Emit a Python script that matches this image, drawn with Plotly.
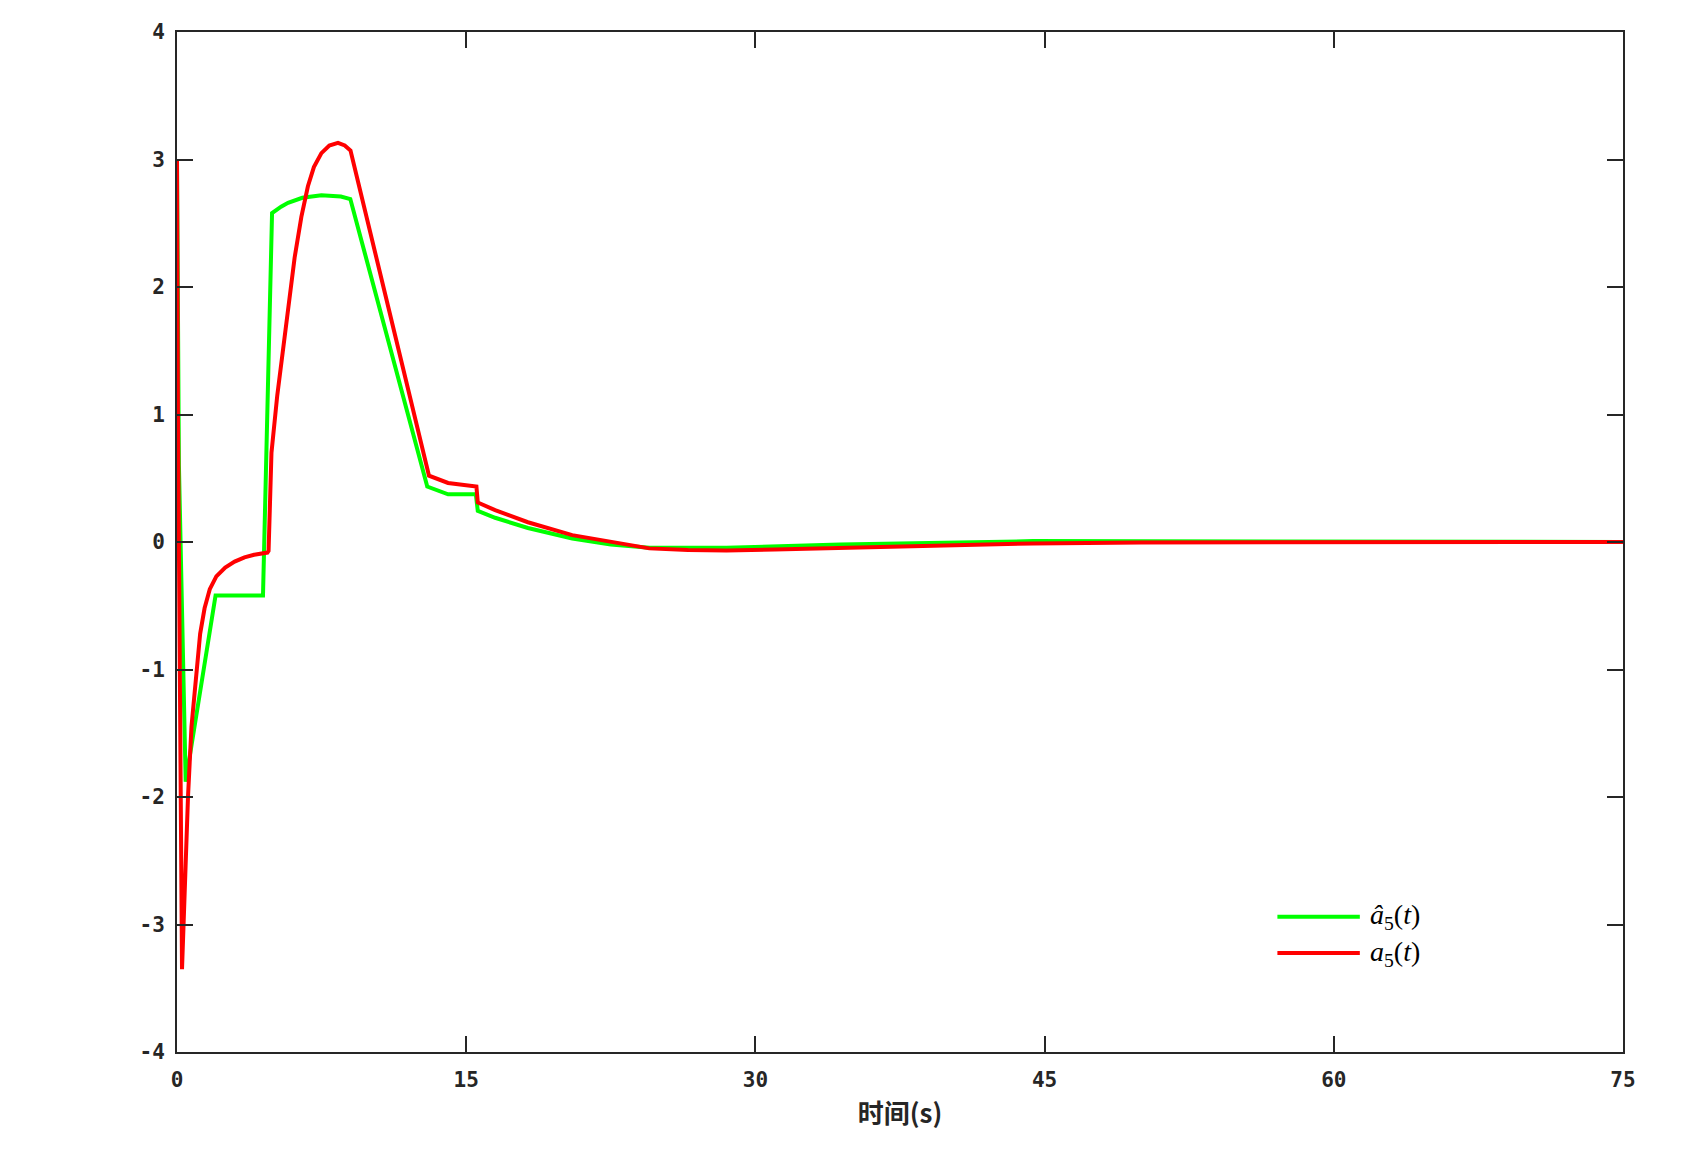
import plotly.graph_objects as go

# time (s) and values
t_hat = [0, 0.1, 0.45, 2.0, 4.46, 4.93, 5.4, 5.76, 6.5, 7.49, 8.5, 8.99,
         12.98, 14.06, 15.5, 15.6, 16.5, 18.2, 20.5, 22.5, 24.5, 28.5,
         34.4, 40, 44.4, 50, 60, 75]
a_hat = [3.0, 0.6, -1.88, -0.42, -0.42, 2.58, 2.63, 2.66, 2.70, 2.72, 2.71, 2.69,
         0.435, 0.374, 0.374, 0.245, 0.19, 0.11, 0.027, -0.02, -0.045, -0.045,
         -0.02, -0.002, 0.007, 0.005, 0.001, 0.0]

t_real = [0, 0.05, 0.26, 0.35, 0.45, 0.57, 0.75, 1.0, 1.2, 1.43, 1.7, 2.04,
          2.5, 2.99, 3.5, 4.0, 4.69, 4.75, 4.9, 5.2, 5.5, 5.8, 6.1, 6.45,
          6.79, 7.1, 7.49, 7.9, 8.35, 8.7, 9.0, 13.07, 14.06, 15.53, 15.6,
          16.5, 18.2, 20.5, 22.5, 24.5, 26.5, 28.5, 31, 34.4, 38, 44.4, 50, 60, 75]
a_real = [3.0, 1.0, -3.35, -2.9, -2.4, -2.0, -1.45, -1.0, -0.72, -0.52, -0.37, -0.27,
          -0.2, -0.154, -0.12, -0.1, -0.083, -0.07, 0.7, 1.15, 1.53, 1.9, 2.23, 2.55,
          2.79, 2.94, 3.05, 3.11, 3.13, 3.11, 3.07, 0.52, 0.463, 0.435, 0.31,
          0.25, 0.155, 0.054, 0.0, -0.05, -0.062, -0.066, -0.058, -0.045, -0.028,
          -0.011, -0.003, 0.0, 0.0]

series_names = ["<i>â</i><sub>5</sub>(<i>t</i>)", "<i>a</i><sub>5</sub>(<i>t</i>)"]
series_colors = ["#00ff00", "#ff0000"]

x_ticks = [0, 15, 30, 45, 60, 75]
y_ticks = [-4, -3, -2, -1, 0, 1, 2, 3, 4]
y_ticktext = [str(v) for v in y_ticks]

fig = go.Figure()
fig.add_trace(go.Scatter(x=t_hat, y=a_hat, mode="lines", name=series_names[0],
                         line=dict(color=series_colors[0], width=4)))
fig.add_trace(go.Scatter(x=t_real, y=a_real, mode="lines", name=series_names[1],
                         line=dict(color=series_colors[1], width=4)))

axis_color = "#262626"
tick_font = dict(family="DejaVu Sans Mono", size=21, color=axis_color, weight="bold")

fig.update_layout(
    width=1699, height=1161,
    margin=dict(l=169, r=84, t=24, b=117),
    paper_bgcolor="white", plot_bgcolor="white",
    showlegend=False,
    xaxis=dict(range=[0, 75], tickvals=x_ticks, ticks="inside", ticklen=16,
               tickwidth=2, tickcolor=axis_color, showline=True, linewidth=2,
               linecolor=axis_color, mirror="ticks", showgrid=False, zeroline=False,
               tickfont=tick_font, ticklabelstandoff=8,
               title=dict(text="<b>时间(s)</b>", standoff=14,
                          font=dict(family="Noto Sans CJK SC", size=26, color=axis_color))),
    yaxis=dict(range=[-4, 4], tickvals=y_ticks, ticktext=y_ticktext, ticks="inside",
               ticklen=16, tickwidth=2, tickcolor=axis_color, showline=True,
               linewidth=2, linecolor=axis_color, mirror="ticks", showgrid=False,
               zeroline=False, tickfont=tick_font, ticklabelstandoff=6),
)

# legend drawn inside the lower right corner, as in the reference
legend_y = [0.1325, 0.097]
for name, color, ly in zip(series_names, series_colors, legend_y):
    fig.add_shape(type="line", xref="paper", yref="paper", x0=0.761, x1=0.818,
                  y0=ly, y1=ly, line=dict(color=color, width=4))
    fig.add_annotation(xref="paper", yref="paper", x=0.8237, y=ly, text=name,
                       showarrow=False, xanchor="left", yanchor="middle",
                       font=dict(family="Liberation Serif", size=28, color="black"))

fig.write_html("out.html")
